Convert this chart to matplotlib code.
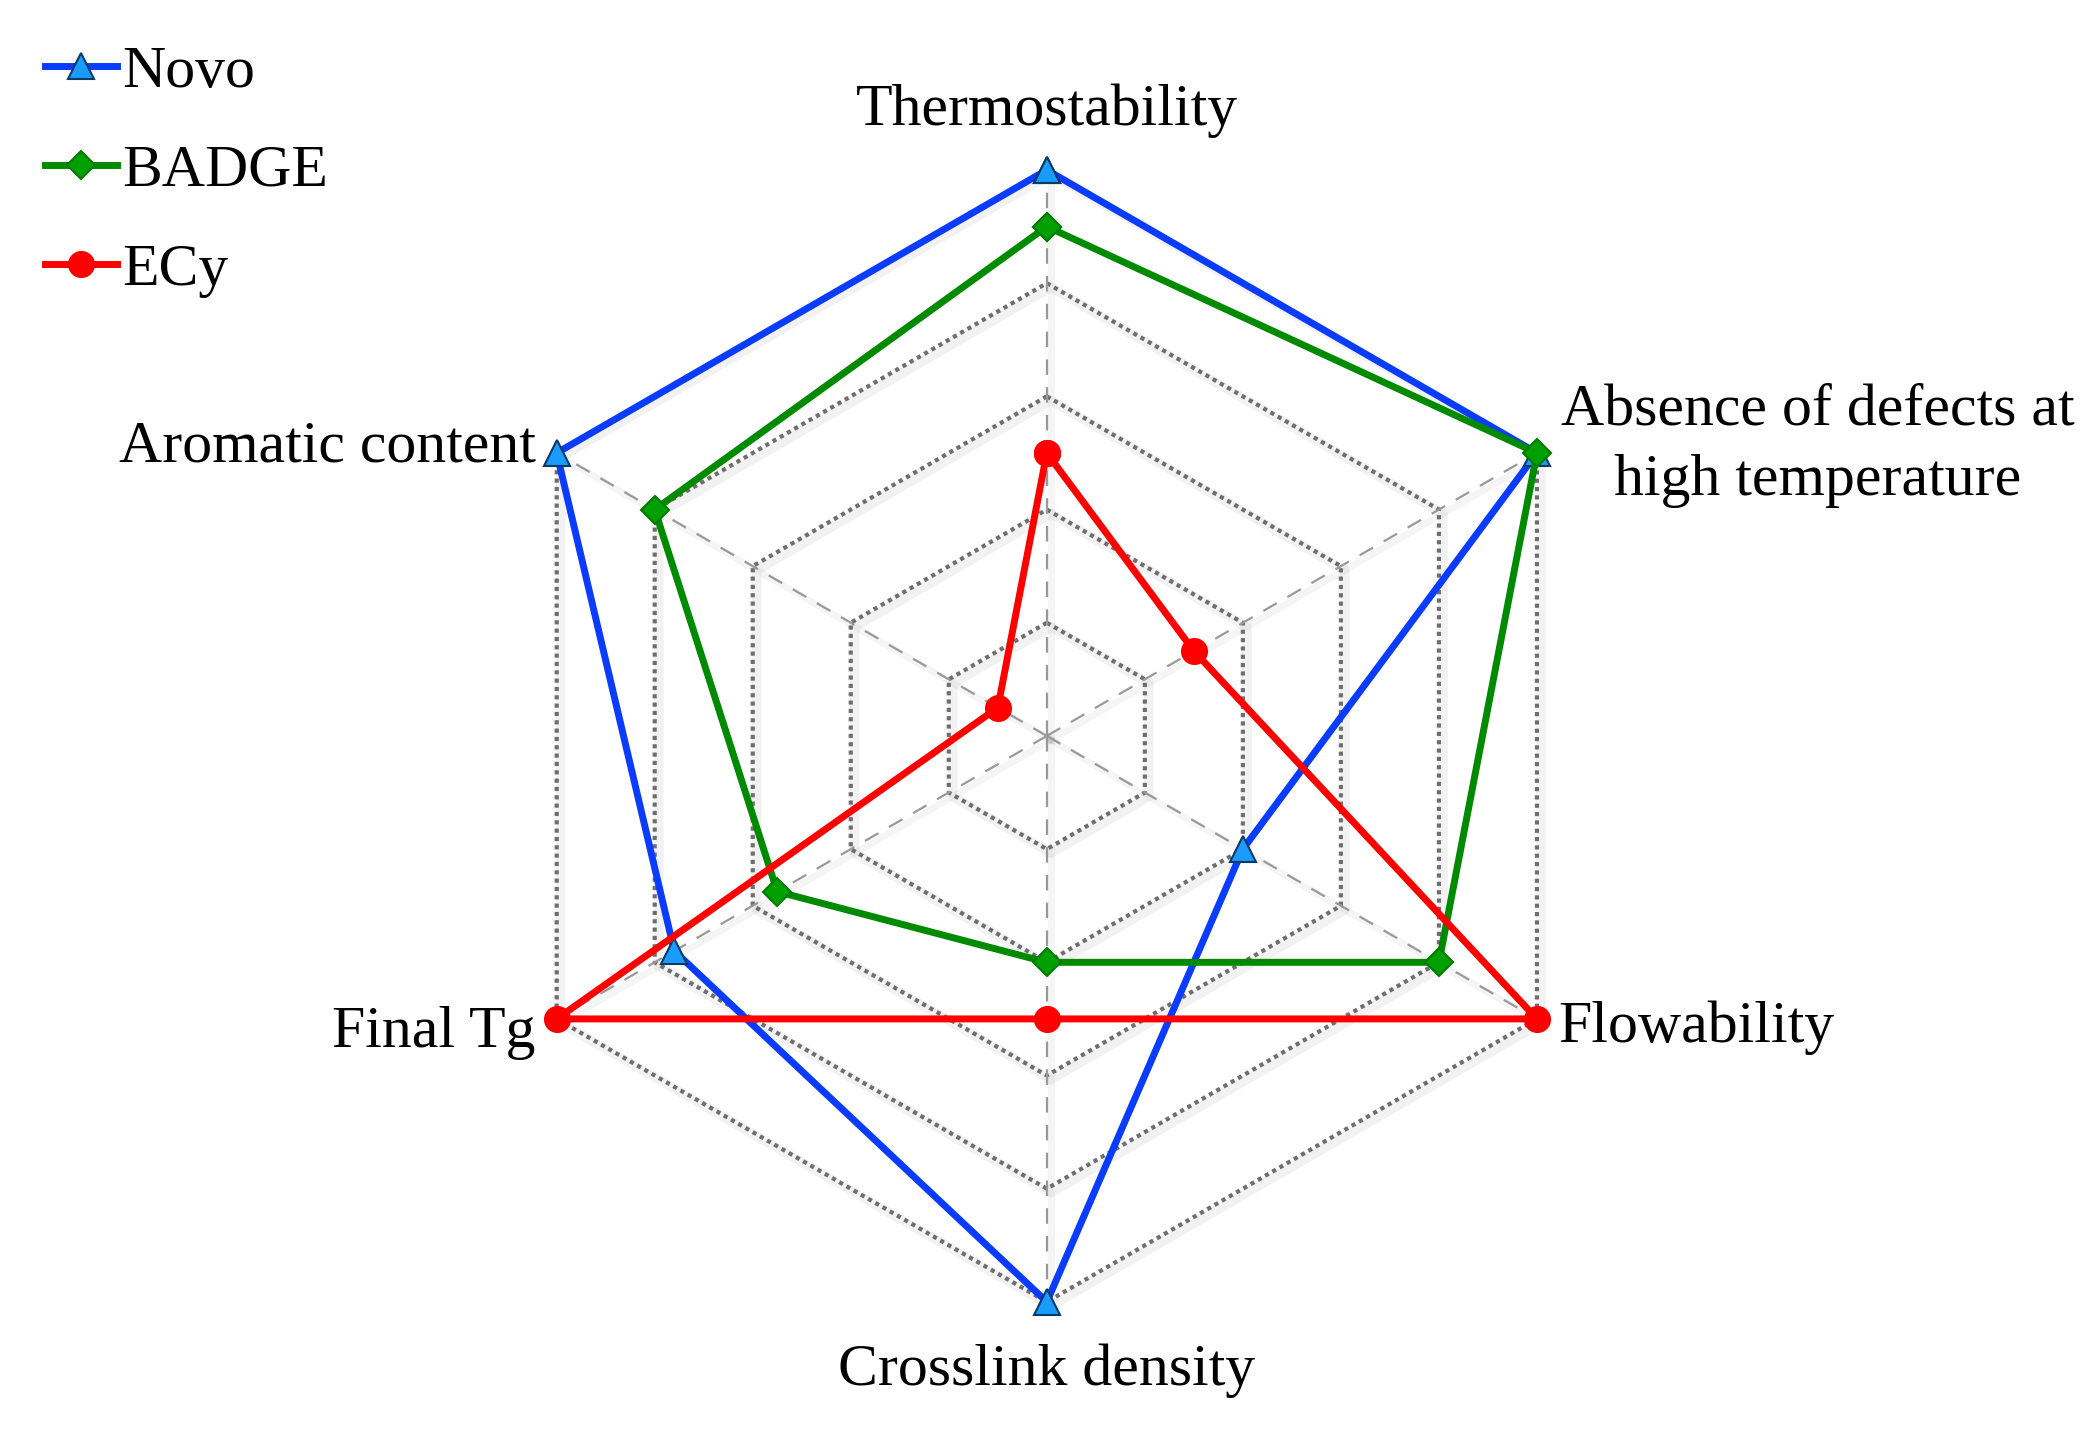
import numpy as np
import matplotlib.pyplot as plt
from matplotlib import transforms

# data (scale 0-5)
CATEGORIES = ["Thermostability", "Absence of defects at\nhigh temperature", "Flowability",
              "Crosslink density", "Final Tg", "Aromatic content"]
SERIES_NAMES = ["Novo", "BADGE", "ECy"]
NOVO = [5, 5, 2, 5, 3.8, 5]
BADGE = [4.5, 5, 4, 2, 2.75, 4]
ECY = [2.5, 1.5, 5, 2.5, 5, 0.5]
LEVELS = [1, 2, 3, 4, 5]

# styles: line color, marker, marker face, marker edge, marker size
STYLES = [
    ("#0a3cff", "^", "#1a9cff", "#0b3a66", 19),
    ("#008a00", "D", "#00a000", "#007a00", 14),
    ("#ff0000", "o", "#ff0000", "#ff0000", 18),
]
# label placement: offset in pixels from outer vertex, alignment
LABEL_POS = [
    ((0, 59), "center", "center"),
    ((24, 7), "left", "center"),
    ((21, -9), "left", "center"),
    ((0, -69), "center", "center"),
    ((-21, -14), "right", "center"),
    ((-21, 5), "right", "center"),
]

plt.rcParams["font.family"] = ["Liberation Serif", "DejaVu Serif"]

fig = plt.figure(figsize=(20.88, 14.35), dpi=100)
ax = fig.add_axes([0.2303, 0.0927, 0.5421, 0.7889], projection="polar")
ax.set_theta_zero_location("N")
ax.set_theta_direction(-1)
ax.set_ylim(0, 5)
ax.set_xticks([])
ax.set_yticks([])
ax.grid(False)
ax.spines["polar"].set_visible(False)
ax.patch.set_visible(False)

theta = np.deg2rad(np.arange(len(CATEGORIES)) * 60)
closed = np.append(theta, theta[0])
shadow = transforms.offset_copy(ax.transData, fig=fig, x=4, y=-4, units="dots")

# hexagon grid rings (dotted, with a soft shadow)
for lev in LEVELS:
    ax.plot(closed, [lev] * len(closed), color="black", alpha=0.05, lw=7,
            transform=shadow, zorder=1, solid_capstyle="round", clip_on=False)
    ax.plot(closed, [lev] * len(closed), color="#6e6e6e", lw=3.0,
            linestyle=(0, (1, 1.0)), zorder=2, clip_on=False)

# spokes (dashed)
for t in theta:
    ax.plot([t, t], [0, LEVELS[-1]], color="black", alpha=0.04, lw=5,
            transform=shadow, zorder=1, clip_on=False)
    ax.plot([t, t], [0, LEVELS[-1]], color="#999999", lw=1.6,
            linestyle=(0, (7, 5.5)), zorder=2, clip_on=False)

for i, (name, vals, st) in enumerate(zip(SERIES_NAMES, [NOVO, BADGE, ECY], STYLES)):
    color, marker, face, edge, ms = st
    ax.plot(closed, vals + vals[:1], color=color, lw=5, marker=marker,
            markersize=ms, markerfacecolor=face, markeredgecolor=edge,
            markeredgewidth=1.5, label=name, zorder=5 + i, clip_on=False)

for t, lab, (off, ha, va) in zip(theta, CATEGORIES, LABEL_POS):
    ax.annotate(lab, xy=(t, LEVELS[-1]), xytext=off, textcoords="offset pixels",
                ha=ha, va=va, multialignment="center", linespacing=1.4,
                fontsize=43, annotation_clip=False)

fig.legend(loc="upper left", bbox_to_anchor=(45 / 2088, 1 - 45 / 1435), frameon=False,
           fontsize=43, handlelength=1.2, handletextpad=0.1, labelspacing=0.74,
           borderpad=0, borderaxespad=0)

fig.savefig("out.png", dpi=100, facecolor="white")
